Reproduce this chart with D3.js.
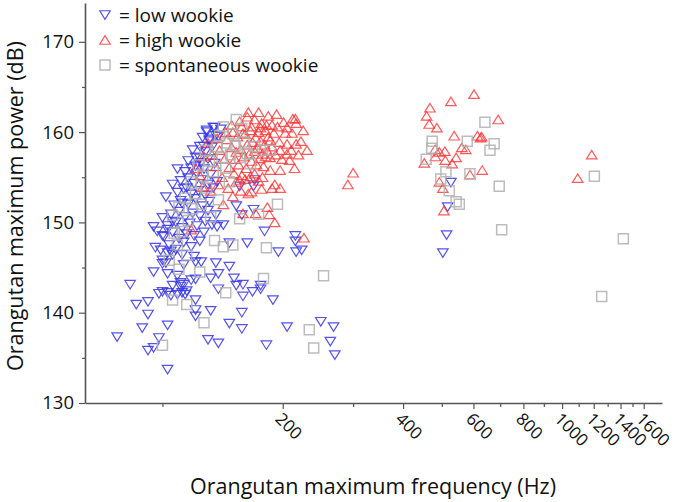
<!DOCTYPE html>
<html><head><meta charset="utf-8">
<script src="https://cdn.jsdelivr.net/npm/d3@7"></script>
<style>
body{margin:0;background:#fff;}
svg{display:block;font-family:"Open Sans",sans-serif;}
</style></head>
<body>
<script>
// ---- data: [frequency Hz, power dB] ----
const lowWookie = [
[77,137.3],[83,143.1],[86,140.9],[89,138.3],[92,141.2],[92,139.8],[92,135.8],[95,136.1],[95,144.5],[95,149.5],
[98,137.2],[98,142.1],[100,145.4],[103,138.6],[103,133.7],[106,143.0],[105,146.8],[106,150.1],[111,142.9],[114,142.0],
[121,141.4],[121,139.6],[121,143.7],[130,137.0],[132,140.2],[132,143.8],[138,136.6],[138,144.3],[138,142.6],[147,138.8],
[147,145.1],[147,147.7],[151,143.8],[153,143.0],[153,151.8],[158,138.2],[158,140.0],[159,141.8],[159,143.1],[163,147.7],
[168,142.3],[176,143.0],[176,142.6],[180,149.0],[182,136.4],[189,141.4],[195,146.7],[205,138.4],[215,148.5],[215,147.9],
[216,146.7],[223,146.9],[249,139.0],[263,136.8],[268,138.4],[270,135.3],[136,145.5],[118,143.6],[121,140.3],
[100,142.3],[103,142.2],[105,141.9],[109,142.0],[112,142.2],[115,142.4],
[103,144.3],[109,144.1],[111,143.3],[113,143.1],[113,145.3],[120,146.2],[102,145.5],[100,145.8],[103,146.6],[106,146.4],
[112,146.4],[121,145.6],[125,145.6],
[129,160.0],[135,160.5],[124,157.1],[127,158.4],[121,156.2],[115,153.8],[112,152.1],[103,149.2],[100,148.5],[137,149.5],
[142,149.7],[158,150.8],[170,154.7],[156,154.0],[169,151.4],[169,154.0],[131,159.2],[138,159.5],
[527,154.4],[517,151.7],[514,148.6],[503,146.6],
[96,147.2],[99,146.9],[104,147.5],[108,147.0],[113,147.8],[118,147.3],[124,147.9],[101,148.4],[106,148.9],[110,148.2],
[115,148.7],[120,148.5],[127,148.9],[97,149.0],[103,149.6],[108,150.0],[112,149.4],[117,149.9],[122,149.6],[128,150.1],
[133,149.7],[100,150.5],[105,150.9],[110,151.2],[114,150.6],[119,151.0],[124,150.7],[130,151.3],[136,150.8],[107,151.9],
[111,152.4],[116,152.0],[121,152.6],[126,151.8],[131,152.3],[102,152.8],[109,153.3],[113,153.7],[118,153.1],[123,153.5],
[128,153.0],[134,153.8],[106,154.2],[111,154.6],[116,154.9],[120,154.3],[125,154.7],[130,154.2],[137,154.5],[114,155.6],
[118,156.0],[122,155.4],[127,155.9],[132,155.3],[109,155.9],[116,156.8],[121,157.2],[125,156.6],[130,157.0],[135,156.5],
[119,158.0],[124,158.4],[128,157.8],[133,158.3],[126,159.4],[131,159.0],[136,159.6],[129,160.2],[134,160.5],[140,160.3]
];
const highWookie = [
[602,164.2],[527,163.4],[467,162.7],[458,161.8],[465,160.9],[486,160.5],[692,161.4],[537,159.6],[614,159.6],[629,159.5],
[625,159.4],[561,158.3],[574,158.1],[481,158.1],[493,157.8],[509,157.9],[482,157.3],[543,157.2],[510,156.9],[531,156.5],
[452,156.6],[631,155.8],[588,155.3],[493,154.5],[503,153.8],[506,151.3],[1186,157.5],[1094,154.9],
[164,162.2],[174,162.2],[215,161.5],[216,161.0],[225,160.2],[182,160.8],[188,160.8],[203,159.9],[211,159.9],[158,160.6],
[167,160.6],[150,160.0],[174,160.0],[186,159.1],[197,158.0],[205,158.7],[216,158.7],[230,158.0],[205,157.6],[219,157.5],
[208,156.9],[181,157.3],[179,156.2],[186,155.8],[197,155.8],[197,153.8],[188,153.8],[167,153.4],[156,154.7],[166,155.1],
[153,157.8],[300,155.5],[291,154.2],[191,154.2],[177,153.7],[183,151.7],[185,150.9],[191,150.0],[226,148.3],[159,151.0],
[171,151.0],[118,149.2],
[133,157.5],[136,156.2],[139,158.0],[141,155.0],[143,157.0],[145,159.2],[147,156.1],[149,158.3],[151,155.4],[152,157.0],
[154,159.5],[155,156.4],[157,158.1],[158,155.2],[160,157.3],[161,159.8],[162,156.0],[163,158.6],[165,157.6],[166,160.2],
[167,156.8],[168,158.9],[170,157.9],[171,159.4],[172,156.4],[173,158.2],[175,157.1],[176,159.0],[177,161.0],[178,157.6],
[180,158.6],[181,160.2],[183,157.9],[184,159.5],[186,157.2],[188,158.4],[190,159.9],[192,157.5],[194,160.6],[196,158.9],
[199,157.0],[201,161.1],[146,153.8],[150,152.9],[153,154.5],[157,153.5],[161,154.8],[164,153.2],[170,155.4],[174,154.6],
[178,155.0],[138,154.2],[142,152.0],[132,153.5],[149,160.8],[156,161.2],[163,161.7],[170,161.4],[176,160.5],[159,159.9],
[144,160.0],[137,159.3],[184,161.8],[193,162.0],[205,160.5],[210,158.0],[214,156.0],[222,159.0],[212,161.5],
[121,156.0],[124,155.2],[127,157.3],[130,158.8],[126,153.9]
];
const spontaneousWookie = [
[641,161.1],[473,159.0],[472,158.2],[579,159.0],[676,158.7],[660,158.0],[457,157.0],[512,155.6],[588,155.4],[497,154.8],
[522,153.5],[543,152.3],[553,152.0],[696,154.0],[706,149.2],[1204,155.1],[1423,148.2],[1256,141.8],
[110,151.7],[106,150.8],[107,148.8],[124,144.5],[106,141.4],[115,140.9],[127,138.9],[100,136.4],[144,142.2],[142,147.3],
[150,147.5],[135,148.0],[156,150.4],[174,150.9],[194,152.0],[182,147.2],[179,143.8],[233,138.1],[239,136.1],[253,144.1],
[153,161.4],[142,160.6],[186,158.0],[178,158.0],
[112,149.0],[116,150.2],[119,151.5],[114,152.7],[121,153.2],[125,152.0],[118,154.5],[126,155.1],[129,153.8],[123,156.4],
[131,156.8],[134,155.6],[128,158.0],[137,158.4],[141,157.2],[139,159.6],[145,158.8],[148,157.5],[144,156.0],[152,158.5],
[156,157.2],[150,159.8],[160,158.9],[163,157.6],[158,160.4],[170,158.4],[166,156.5],[147,154.5],[138,152.5],[132,150.6],
[109,147.5],[104,145.8],[110,144.8],[115,146.4]
];
const xMajorTicks = [200,400,600,800,1000,1200,1400,1600];
const xMinorTicks = [100,300,500,700,900,1100,1300,1500];
const yMajorTicks = [130,140,150,160,170];
const yMinorTicks = [135,145,155,165];
const legendLabels = ["= low wookie","= high wookie","= spontaneous wookie"];
const xTitle = "Orangutan maximum frequency (Hz)";
const yTitle = "Orangutan maximum power (dB)";

// ---- drawing ----
const W = 675, H = 502;
const svg = d3.select("body").append("svg").attr("width", W).attr("height", H);
const x = d3.scaleLog().domain([64, 1778]).range([85, 662]);
const y = d3.scaleLinear().domain([130, 174.3]).range([403, 3]);

const TW = 10.5, TH = 8.5, SQ = 10;
const downTri = `M${-TW/2},${-TH/2}L${TW/2},${-TH/2}L0,${TH/2}Z`;
const upTri = `M${-TW/2},${TH/2}L${TW/2},${TH/2}L0,${-TH/2}Z`;
const square = `M${-SQ/2},${-SQ/2}h${SQ}v${SQ}h${-SQ}Z`;

const series = [
  {data: lowWookie, path: downTri, color: "#3535e6", sw: 1.2, op: 0.85},
  {data: highWookie, path: upTri, color: "#ff3030", sw: 1.2, op: 0.8},
  {data: spontaneousWookie, path: square, color: "#b0b0b0", sw: 1.5, op: 0.85}
];

const plot = svg.append("g");
series.forEach(s => {
  plot.append("g").selectAll("path").data(s.data).join("path")
    .attr("d", s.path)
    .attr("transform", d => `translate(${x(d[0])},${y(d[1])})`)
    .attr("fill", "none").attr("stroke", s.color)
    .attr("stroke-width", s.sw).attr("stroke-opacity", s.op);
});

// axes
const axisColor = "#555";
const gx = svg.append("g").attr("transform", "translate(0,403)")
  .call(d3.axisBottom(x).tickValues(xMajorTicks).tickFormat(d3.format("d")).tickSize(6).tickSizeOuter(0));
svg.append("g").attr("transform", "translate(0,403)")
  .call(d3.axisBottom(x).tickValues(xMinorTicks).tickFormat("").tickSize(4).tickSizeOuter(0))
  .call(g => g.select(".domain").remove());
gx.selectAll(".tick text")
  .attr("transform", "translate(-9,17) rotate(45)")
  .attr("text-anchor", "start").attr("dy", "0").attr("y", 0).attr("x", 0)
  .style("font-size", "17px").style("font-family", "'Open Sans',sans-serif").attr("fill", "#111");

const gy = svg.append("g").attr("transform", "translate(85,0)")
  .call(d3.axisLeft(y).tickValues(yMajorTicks).tickSize(6).tickPadding(5).tickSizeOuter(0));
svg.append("g").attr("transform", "translate(85,0)")
  .call(d3.axisLeft(y).tickValues(yMinorTicks).tickFormat("").tickSize(3).tickSizeOuter(0))
  .call(g => g.select(".domain").remove());
gy.selectAll(".tick text").style("font-size", "18.5px").style("font-family", "'Open Sans',sans-serif").attr("fill", "#111");

svg.selectAll(".domain").attr("stroke", axisColor).attr("stroke-width", 1.6);
svg.selectAll(".tick line").attr("stroke", axisColor).attr("stroke-width", 1.2);

// titles
svg.append("text").attr("x", 373).attr("y", 494).attr("text-anchor", "middle")
  .style("font-size", "21.5px").attr("fill", "#111").text(xTitle);
svg.append("text").attr("transform", "translate(23,206) rotate(-90)").attr("text-anchor", "middle")
  .style("font-size", "21.5px").attr("fill", "#111").text(yTitle);

// legend
const leg = svg.append("g");
series.forEach((s, i) => {
  const cy = 15 + i * 25;
  leg.append("path").attr("d", s.path).attr("transform", `translate(105,${cy})`)
    .attr("fill", "none").attr("stroke", s.color).attr("stroke-width", s.sw).attr("stroke-opacity", s.op);
  leg.append("text").attr("x", 119).attr("y", cy + 6.5).style("font-size", "19px")
    .attr("fill", "#111").text(legendLabels[i]);
});
</script>
</body></html>
